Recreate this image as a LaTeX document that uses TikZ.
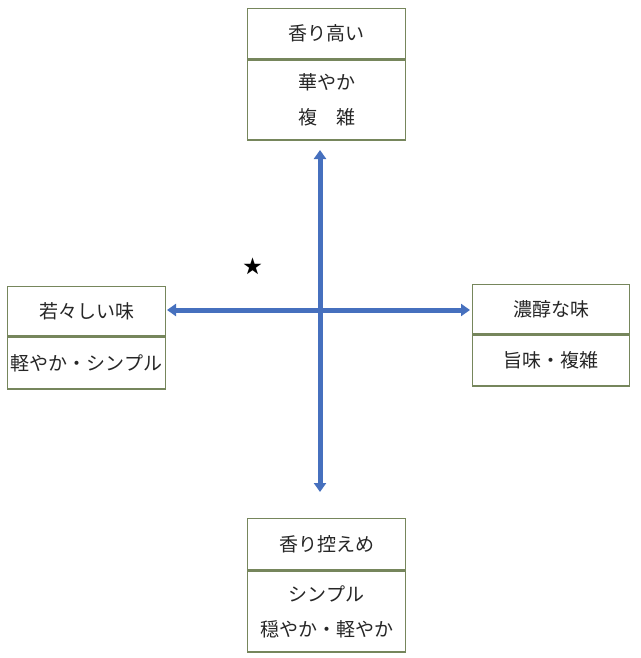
\documentclass[tikz,border=0pt]{standalone}
\usepackage{fontspec}
\setmainfont{Noto Sans CJK JP}
\usepackage{tikz}
\usetikzlibrary{positioning,arrows.meta}
\definecolor{BoxEdge}{RGB}{118,134,92}
\definecolor{AxisBlue}{RGB}{70,112,190}
\tikzset{
  every node/.style={
    font=\fontsize{19}{35}\selectfont,
    text=black!85
  },
  headbox/.style n args={2}{
    shape=rectangle,
    draw=BoxEdge,
    line width=1.4pt,
    minimum width=#1,
    minimum height=#2,
    inner sep=0pt,
    anchor=north west
  },
  bodybox/.style n args={2}{
    shape=rectangle,
    draw=BoxEdge,
    line width=1.4pt,
    minimum width=#1,
    minimum height=#2,
    inner sep=0pt,
    align=center
  },
  axis/.style={
    draw=AxisBlue,
    line width=5pt,
    {Triangle[length=9pt,width=12pt]}-{Triangle[length=9pt,width=12pt]}
  }
}
\begin{document}
\begin{tikzpicture}[x=1pt,y=-1pt]
    \useasboundingbox[fill=white] (0,0) rectangle (640,658);
    % top
    \node [headbox={158pt}{50pt}] (aroma high) at (247,8) {香り高い};
    \node [bodybox={158pt}{80pt},below=0pt of aroma high] (aroma high body) {華やか\\複　雑};
    % left
    \node [headbox={158pt}{49pt}] (young) at (7,286) {若々しい味};
    \node [bodybox={158pt}{52pt},below=0pt of young] (young body) {軽やか・シンプル};
    % right
    \node [headbox={157pt}{49pt}] (rich) at (472,284) {濃醇な味};
    \node [bodybox={157pt}{51pt},below=0pt of rich] (rich body) {旨味・複雑};
    % bottom
    \node [headbox={158pt}{51pt}] (aroma low) at (247,518) {香り控えめ};
    \node [bodybox={158pt}{81pt},below=0pt of aroma low] (aroma low body) {シンプル\\穏やか・軽やか};
    % axes
    \coordinate (north end) at (320,150);
    \coordinate (south end) at (320,492);
    \coordinate (west end) at (167,310);
    \coordinate (east end) at (470,310);
    \draw [axis] (north end) -- (south end);
    \draw [axis] (west end) -- (east end);
    \node [text=black,font=\fontsize{19}{19}\selectfont] (star) at (253,266) {★};
\end{tikzpicture}
\end{document}
